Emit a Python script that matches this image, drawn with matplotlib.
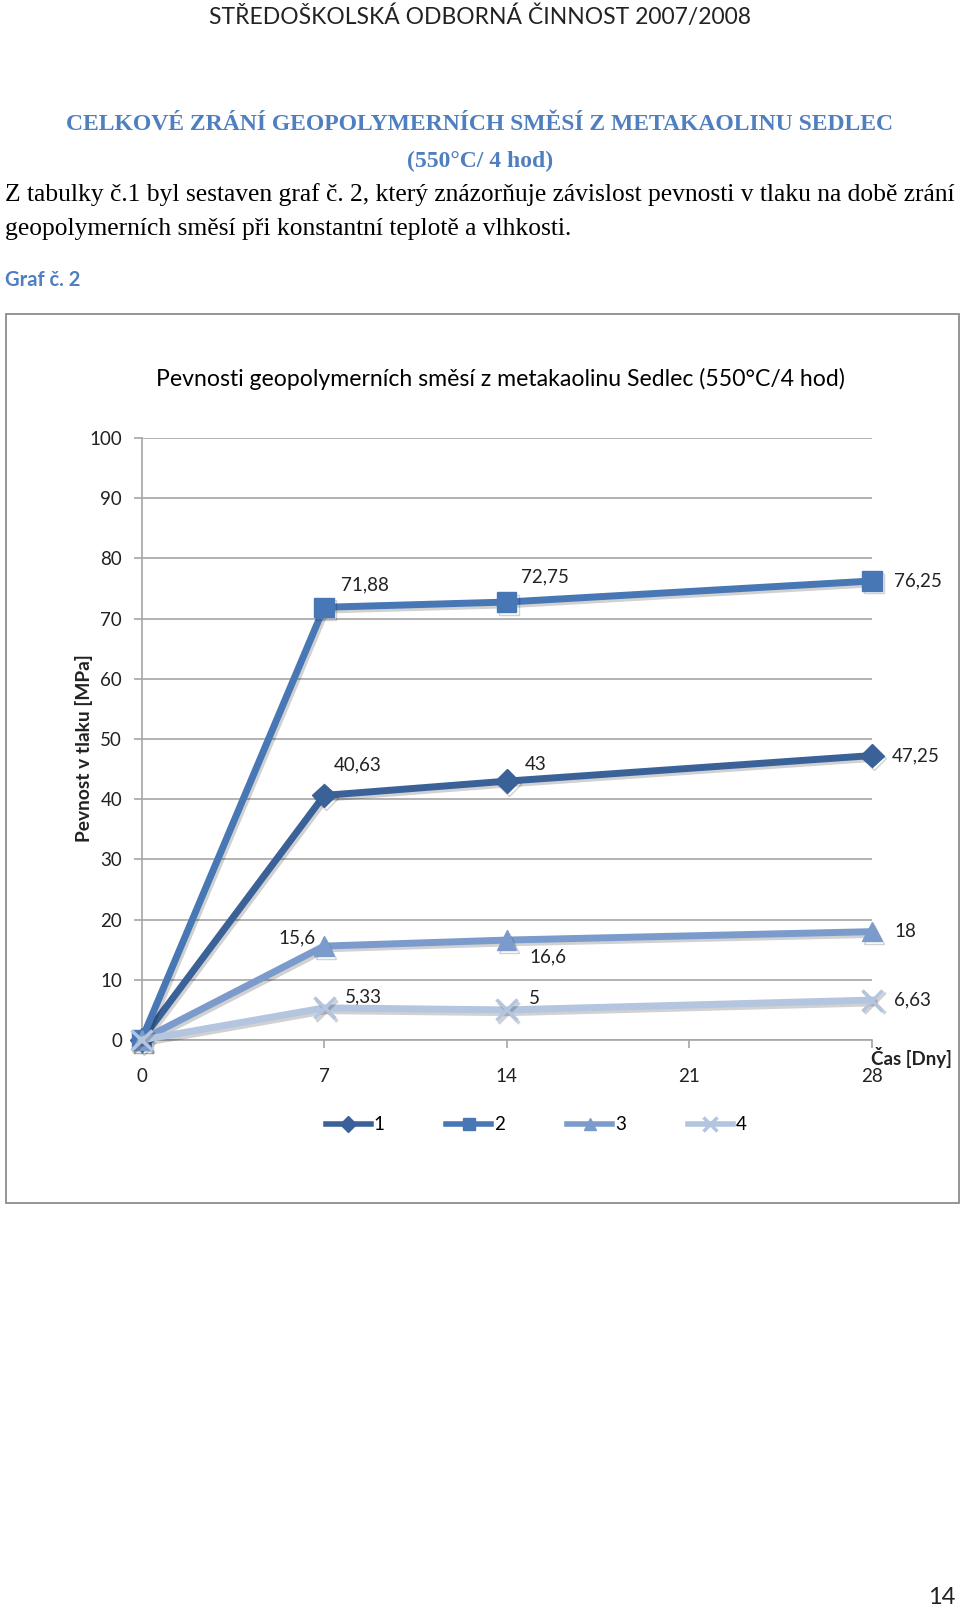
import matplotlib
matplotlib.use("Agg")
import matplotlib.pyplot as plt
import matplotlib.patheffects as pe
from matplotlib.patches import Rectangle

W, H = 960, 1609

# data
days = [0, 7, 14, 28]
series_names = ['1', '2', '3', '4']
s1 = [0, 40.63, 43, 47.25]
s2 = [0, 71.88, 72.75, 76.25]
s3 = [0, 15.6, 16.6, 18]
s4 = [0, 5.33, 5, 6.63]
labels1 = ['40,63', '43', '47,25']
labels2 = ['71,88', '72,75', '76,25']
labels3 = ['15,6', '16,6', '18']
labels4 = ['5,33', '5', '6,63']
xticks = [0, 7, 14, 21, 28]
yticks = [0, 10, 20, 30, 40, 50, 60, 70, 80, 90, 100]

blue_head = '#4f7fbf'
chart_font = ['Lato', 'DejaVu Sans']


def fx(px):
    return px / W


def fy(py):
    return 1 - py / H


fig = plt.figure(figsize=(W / 100, H / 100), dpi=100)

# page texts
fig.text(fx(480), fy(17), 'STŘEDOŠKOLSKÁ ODBORNÁ ČINNOST 2007/2008', ha='center', va='center',
         fontsize=16.5, family=chart_font, color='#222222')
fig.text(fx(480), fy(125), 'CELKOVÉ ZRÁNÍ GEOPOLYMERNÍCH SMĚSÍ Z METAKAOLINU SEDLEC', ha='center',
         va='center', fontsize=17, family='Liberation Serif', fontweight='bold', color=blue_head)
fig.text(fx(480), fy(161), '(550°C/ 4 hod)', ha='center', va='center', fontsize=17,
         family='Liberation Serif', fontweight='bold', color=blue_head)
fig.text(fx(5), fy(195), 'Z tabulky č.1 byl sestaven graf č. 2, který znázorňuje závislost pevnosti v tlaku na době zrání',
         ha='left', va='center', fontsize=18.4, family='Liberation Serif', color='black')
fig.text(fx(5), fy(229), 'geopolymerních směsí při konstantní teplotě a vlhkosti.',
         ha='left', va='center', fontsize=18.4, family='Liberation Serif', color='black')
fig.text(fx(5), fy(280), 'Graf č. 2', ha='left', va='center', fontsize=14.5,
         family=chart_font, fontweight='bold', color=blue_head)
fig.text(fx(955), fy(1597), '14', ha='right', va='center', fontsize=17,
         family=chart_font, color='#222222')

# chart frame
fig.patches.append(Rectangle((fx(6), fy(1203)), fx(953), 889 / H, transform=fig.transFigure,
                             fill=False, edgecolor='#8c8c8c', linewidth=1.3))
fig.text(fx(500), fy(379), 'Pevnosti geopolymerních směsí z metakaolinu Sedlec (550°C/4 hod)',
         ha='center', va='center', fontsize=16.6, family=chart_font, color='black')

x0, x1, y0, y1 = 141.5, 872, 1040, 438
ax = fig.add_axes([fx(x0), fy(y0), fx(x1 - x0), (y0 - y1) / H])
ax.set_xlim(0, 28)
ax.set_ylim(0, 100)
ax.set_xticks(xticks)
ax.set_yticks(yticks)
ax.grid(axis='y', color='#a6a6a6', linewidth=1.2)
ax.set_axisbelow(True)
for side in ['top', 'right']:
    ax.spines[side].set_visible(False)
for side in ['left', 'bottom']:
    ax.spines[side].set_color('#a6a6a6')
    ax.spines[side].set_linewidth(1.2)
ax.tick_params(axis='both', colors='#a6a6a6', labelcolor='#222222', labelsize=13.5, length=6, width=1.2)
ax.tick_params(axis='x', pad=14)
ax.tick_params(axis='y', pad=8)
for t in ax.get_xticklabels() + ax.get_yticklabels():
    t.set_family(chart_font)

shadow = [pe.SimpleLineShadow(offset=(1.5, -2), shadow_color='black', alpha=0.18), pe.Normal()]
styles = [
    (s1, '#3b6298', 'D', 12, labels1, [(7, 22), (13, 12), (14, 0)], ['left', 'left', 'left']),
    (s2, '#4777b5', 's', 14, labels2, [(12, 16), (10, 18), (16, 0)], ['left', 'left', 'left']),
    (s3, '#7b9bcc', '^', 14, labels3, [(-6, 6), (16, -12), (16, 0)], ['right', 'left', 'left']),
    (s4, '#b3c5df', 'x', 15, labels4, [(15, 8), (16, 8), (16, 0)], ['left', 'left', 'left']),
]
for i, (vals, col, mk, ms, labs, offs, has) in enumerate(styles):
    ax.plot(days, vals, color=col, linewidth=5, marker=mk, markersize=ms,
            markeredgewidth=2.5 if mk == 'x' else 1, markeredgecolor=col, clip_on=False,
            label=series_names[i], path_effects=shadow, zorder=3 + i)
    for d, v, lab, off, ha in zip(days[1:], vals[1:], labs, offs, has):
        ax.annotate(lab, (d, v), xytext=off, textcoords='offset points', ha=ha, va='center',
                    fontsize=13.5, family=chart_font, color='#222222')

fig.text(fx(84), fy(748), 'Pevnost v tlaku [MPa]', rotation=90, ha='center', va='center',
         fontsize=13.8, family=chart_font, fontweight='bold', color='#222222')
fig.text(fx(911), fy(1057), 'Čas [Dny]', ha='center', va='center', fontsize=13.5,
         family=chart_font, fontweight='bold', color='#222222')

leg = ax.legend(loc='center', bbox_to_anchor=(fx(536), fy(1125)), bbox_transform=fig.transFigure,
                ncol=4, frameon=False, fontsize=13.5, handlelength=2.4, columnspacing=3.3,
                handletextpad=0.15, markerscale=0.65)
for t in leg.get_texts():
    t.set_family(chart_font)
for h in leg.legend_handles:
    h.set_linewidth(4)
    h.set_path_effects([])

fig.savefig('out.png', dpi=100)
